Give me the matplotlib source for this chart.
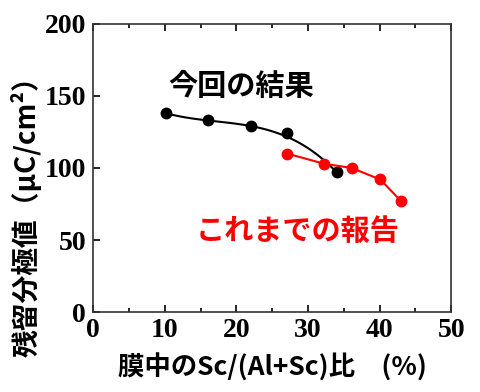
import numpy as np
import matplotlib
matplotlib.use('Agg')
import matplotlib.pyplot as plt
from matplotlib.ticker import MultipleLocator

# data
ours_x = [10.2, 16.0, 22.1, 27.1, 34.0]
ours_y = [138, 133, 129, 124, 97]
prev_x = [27.1, 32.2, 36.1, 40.1, 43.0]
prev_y = [110, 103, 100, 92, 77]

cjk = ['Noto Sans CJK JP', 'DejaVu Sans']
serif = ['Liberation Serif', 'DejaVu Serif']

fig = plt.figure(figsize=(4.8, 3.92), dpi=100)
ax = fig.add_axes([0.194, 0.204, 0.746, 0.735])

# smooth trend through our results (cubic fit, 27% point weighted down)
coef = np.polyfit(ours_x, ours_y, 3, w=[1, 1, 1, 0.05, 1])
xs = np.linspace(min(ours_x), max(ours_x), 100)
ax.plot(xs, np.polyval(coef, xs), color='black', lw=1.5)
ax.plot(ours_x, ours_y, 'o', color='black', ms=7.5)

ax.plot(prev_x, prev_y, '-o', color='red', lw=1.5, ms=7.5)

ax.text(20.6, 157, '今回の結果', family=cjk, fontsize=21, fontweight='bold',
        color='black', ha='center', va='center')
ax.text(28.6, 56, 'これまでの報告', family=cjk, fontsize=21, fontweight='bold',
        color='red', ha='center', va='center')

ax.set_xlim(0, 50)
ax.set_ylim(0, 200)
ax.xaxis.set_major_locator(MultipleLocator(10))
ax.xaxis.set_minor_locator(MultipleLocator(5))
ax.yaxis.set_major_locator(MultipleLocator(50))
ax.tick_params(axis='x', which='both', direction='in', top=True, pad=4)
ax.tick_params(axis='y', which='both', direction='in', pad=5)
ax.tick_params(which='major', length=5, width=1.2)
ax.tick_params(which='minor', length=3, width=1.2)
for lab in ax.get_xticklabels() + ax.get_yticklabels():
    lab.set_family(serif)
    lab.set_fontweight('bold')
    lab.set_fontsize(20)
for s in ax.spines.values():
    s.set_color('#333333')
    s.set_linewidth(1.2)

ax.set_xlabel('膜中のSc/(Al+Sc)比　(%)', family=cjk, fontsize=19,
              fontweight='bold', labelpad=8)
fig.text(26 / 480, 1 - 210 / 392, '残留分極値（μC/cm²）', family=cjk,
         fontsize=20, fontweight='bold', rotation=90, ha='center', va='center')

fig.savefig('out.png', dpi=100)
